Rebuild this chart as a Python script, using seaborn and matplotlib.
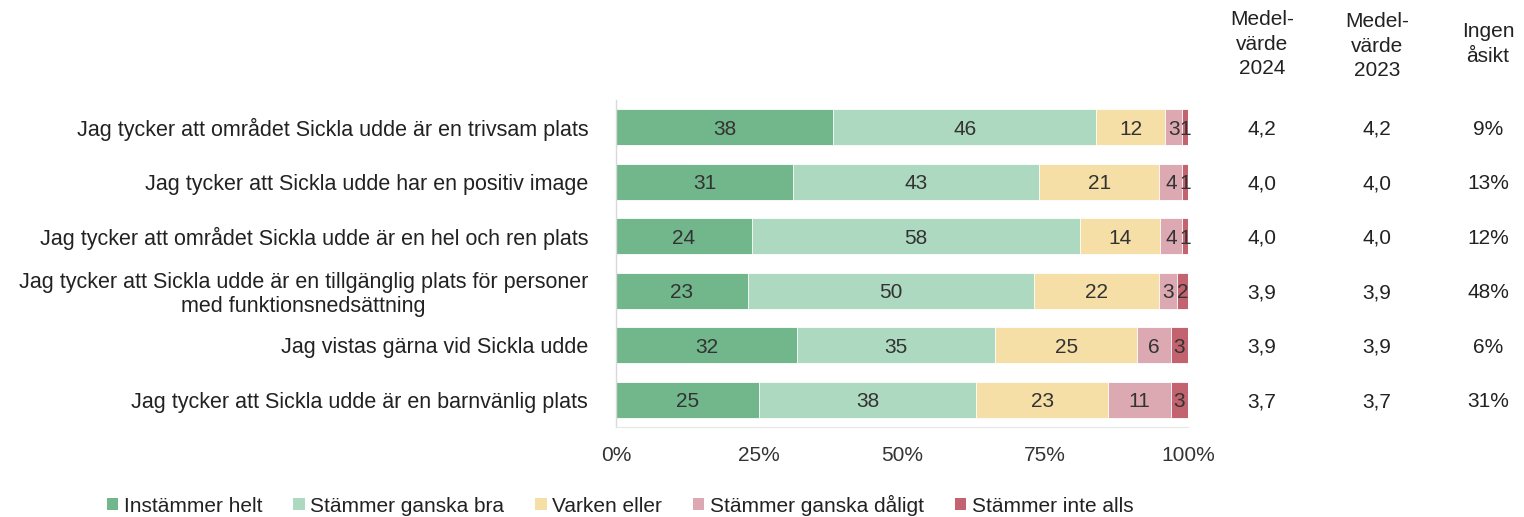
import numpy as np
import pandas as pd
import matplotlib
matplotlib.use("Agg")
import matplotlib.pyplot as plt
import seaborn as sns
from matplotlib.patches import Patch

categories = [
    "Jag tycker att området Sickla udde är en trivsam plats",
    "Jag tycker att Sickla udde har en positiv image",
    "Jag tycker att området Sickla udde är en hel och ren plats",
    "Jag tycker att Sickla udde är en tillgänglig plats för personer\nmed funktionsnedsättning",
    "Jag vistas gärna vid Sickla udde",
    "Jag tycker att Sickla udde är en barnvänlig plats",
]
series_names = ["Instämmer helt", "Stämmer ganska bra", "Varken eller",
                "Stämmer ganska dåligt", "Stämmer inte alls"]
instammer_helt = [38, 31, 24, 23, 32, 25]
stammer_ganska_bra = [46, 43, 58, 50, 35, 38]
varken_eller = [12, 21, 14, 22, 25, 23]
stammer_ganska_daligt = [3, 4, 4, 3, 6, 11]
stammer_inte_alls = [1, 1, 1, 2, 3, 3]
medel_2024 = ["4,2", "4,0", "4,0", "3,9", "3,9", "3,7"]
medel_2023 = ["4,2", "4,0", "4,0", "3,9", "3,9", "3,7"]
ingen_asikt = ["9%", "13%", "12%", "48%", "6%", "31%"]
x_ticks = [0, 25, 50, 75, 100]
x_ticklabels = ["0%", "25%", "50%", "75%", "100%"]

colors = ["#72b68c", "#acd9bf", "#f5dfa7", "#dca9b2", "#c2636f"]

sns.set_theme(style="white")
plt.rcParams["font.family"] = ["Liberation Sans", "DejaVu Sans"]

FS = 15

values = np.array([instammer_helt, stammer_ganska_bra, varken_eller,
                   stammer_ganska_daligt, stammer_inte_alls], dtype=float)
shares = values / values.sum(axis=0) * 100
cum = np.cumsum(shares, axis=0)

fig = plt.figure(figsize=(15.24, 5.17), dpi=100)
ax = fig.add_axes([616 / 1524, 1 - 427 / 517, 572 / 1524, 327 / 517])

for i in range(len(series_names) - 1, -1, -1):
    df = pd.DataFrame({"cat": categories, "val": cum[i]})
    sns.barplot(data=df, x="val", y="cat", orient="h", color=colors[i],
                width=0.66, ax=ax, saturation=1, edgecolor="white", linewidth=0.6)

for i in range(len(series_names)):
    for j in range(len(categories)):
        center = cum[i, j] - shares[i, j] / 2
        ax.text(center, j, f"{int(values[i, j])}", ha="center", va="center_baseline",
                fontsize=FS, color="#333333")

ax.set_xlim(0, 100)
ax.set_ylim(len(categories) - 0.5, -0.5)
ax.set_xticks(x_ticks)
ax.set_xticklabels(x_ticklabels, fontsize=FS, color="#333333")
ax.set_xlabel("")
ax.set_ylabel("")
ax.tick_params(axis="y", length=0, pad=20, labelsize=15.5, labelcolor="#222222")
ax.tick_params(axis="x", length=0, pad=14)
for lbl in ax.get_yticklabels():
    lbl.set_multialignment("center")
for s in ["top", "right"]:
    ax.spines[s].set_visible(False)
ax.spines["left"].set_color("#d9d9d9")
ax.spines["bottom"].set_color("#e6e6e6")
ax.spines["left"].set_linewidth(1)
ax.spines["bottom"].set_linewidth(0.8)

tr = ax.get_yaxis_transform()
col_x = [(1262 - 616) / 572, (1377 - 616) / 572, (1488 - 616) / 572]
for j in range(len(categories)):
    for cx, col in zip(col_x, [medel_2024, medel_2023, ingen_asikt]):
        ax.text(cx, j, col[j], transform=tr, ha="center", va="center_baseline",
                fontsize=FS, color="#222222", clip_on=False)

fig.text(1262 / 1524, 1 - 44 / 517, "Medel-\nvärde\n2024", ha="center", va="center",
         fontsize=FS, color="#222222", linespacing=1.35)
fig.text(1377 / 1524, 1 - 46 / 517, "Medel-\nvärde\n2023", ha="center", va="center",
         fontsize=FS, color="#222222", linespacing=1.35)
fig.text(1488 / 1524, 1 - 44 / 517, "Ingen\nåsikt", ha="center", va="center",
         fontsize=FS, color="#222222", linespacing=1.35)

handles = [Patch(facecolor=c, edgecolor="none") for c in colors]
fig.legend(handles, series_names, loc="center", bbox_to_anchor=(620 / 1524, 1 - 505 / 517),
           ncol=5, frameon=False, fontsize=FS, handlelength=0.55, handleheight=0.55,
           handletextpad=0.25, columnspacing=1.5, labelcolor="#222222")

fig.savefig("out.png", dpi=100)
